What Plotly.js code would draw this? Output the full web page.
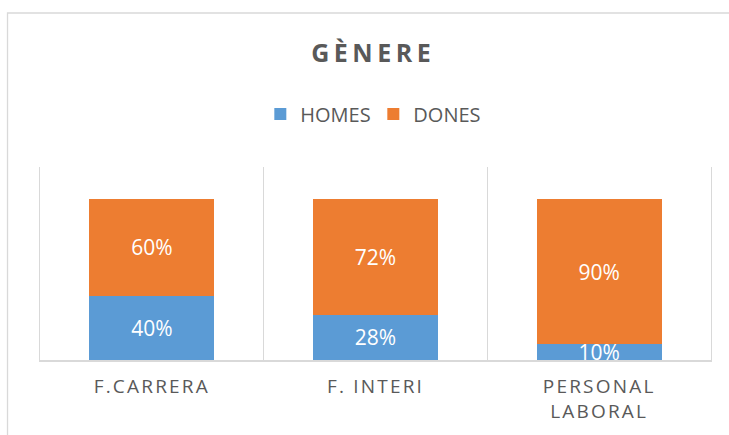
<!DOCTYPE html>
<html>
<head>
<meta charset="utf-8">
<script src="https://cdn.plot.ly/plotly-3.0.1.min.js"></script>
<style>
html, body { margin: 0; padding: 0; background: #ffffff; }
#chart { width: 729px; height: 435px; }
#chart .xtick text { letter-spacing: 2.2px; }
#chart .gtitle { letter-spacing: 4.5px; }
</style>
</head>
<body>
<div id="chart"></div>
<script>
// Data
var categories = ['F.CARRERA', 'F. INTERI', 'PERSONAL<br>LABORAL'];
var seriesNames = ['HOMES', 'DONES'];
var homes = [0.40, 0.28, 0.10];
var dones = [0.60, 0.72, 0.90];
var chartTitle = 'GÈNERE';

var labelFont = { family: 'Open Sans, sans-serif', size: 21, color: '#ffffff' };

var traces = [
  {
    type: 'bar', name: seriesNames[0], x: categories, y: homes,
    marker: { color: '#5B9BD5', line: { width: 0 } },
    texttemplate: '%{y:.0%}', textposition: 'inside', insidetextanchor: 'middle',
    constraintext: 'none', textfont: labelFont, insidetextfont: labelFont,
    hoverinfo: 'skip', cliponaxis: true
  },
  {
    type: 'bar', name: seriesNames[1], x: categories, y: dones,
    marker: { color: '#ED7D31', line: { width: 0 } },
    texttemplate: '%{y:.0%}', textposition: 'inside', insidetextanchor: 'middle',
    constraintext: 'none', textfont: labelFont, insidetextfont: labelFont,
    hoverinfo: 'skip', cliponaxis: true
  }
];

var layout = {
  width: 729, height: 435,
  margin: { l: 39.5, r: 17.5, t: 167, b: 75, pad: 0 },
  paper_bgcolor: '#ffffff', plot_bgcolor: '#ffffff',
  barmode: 'stack', bargap: 0.442,
  font: { family: 'Open Sans, sans-serif', color: '#595959' },
  title: {
    text: '<b>' + chartTitle + '</b>',
    font: { family: 'Open Sans, sans-serif', size: 25, color: '#595959' },
    x: 0.512, xref: 'container', xanchor: 'center',
    y: 0.878, yref: 'container', yanchor: 'middle'
  },
  showlegend: true,
  legend: {
    orientation: 'h', xref: 'container', yref: 'container',
    x: 0.5121, xanchor: 'center', y: 0.738, yanchor: 'middle',
    entrywidth: 68, entrywidthmode: 'pixels',
    font: { family: 'Open Sans, sans-serif', size: 20, color: '#595959' },
    traceorder: 'normal', bgcolor: 'rgba(0,0,0,0)'
  },
  xaxis: {
    type: 'category', tickson: 'boundaries', showgrid: true,
    gridcolor: '#d9d9d9', gridwidth: 1.3,
    showline: true, linecolor: '#d9d9d9', linewidth: 1.6,
    ticks: '', zeroline: false, fixedrange: true, ticklabelstandoff: 9,
    tickfont: { family: 'Open Sans, sans-serif', size: 19, color: '#595959' }
  },
  yaxis: {
    range: [0, 1.2], visible: true, showticklabels: false, ticks: '',
    showgrid: false, zeroline: false, fixedrange: true,
    showline: true, mirror: true, linecolor: '#d9d9d9', linewidth: 1.3
  },
  shapes: [
    {
      type: 'rect', xref: 'paper', yref: 'paper',
      x0: -0.0484, x1: 1.2, y0: -0.6, y1: 1.798,
      line: { color: '#d9d9d9', width: 1.3 }, fillcolor: 'rgba(0,0,0,0)', layer: 'below'
    }
  ]
};

Plotly.newPlot('chart', traces, layout, { displayModeBar: false, staticPlot: true });
</script>
</body>
</html>
